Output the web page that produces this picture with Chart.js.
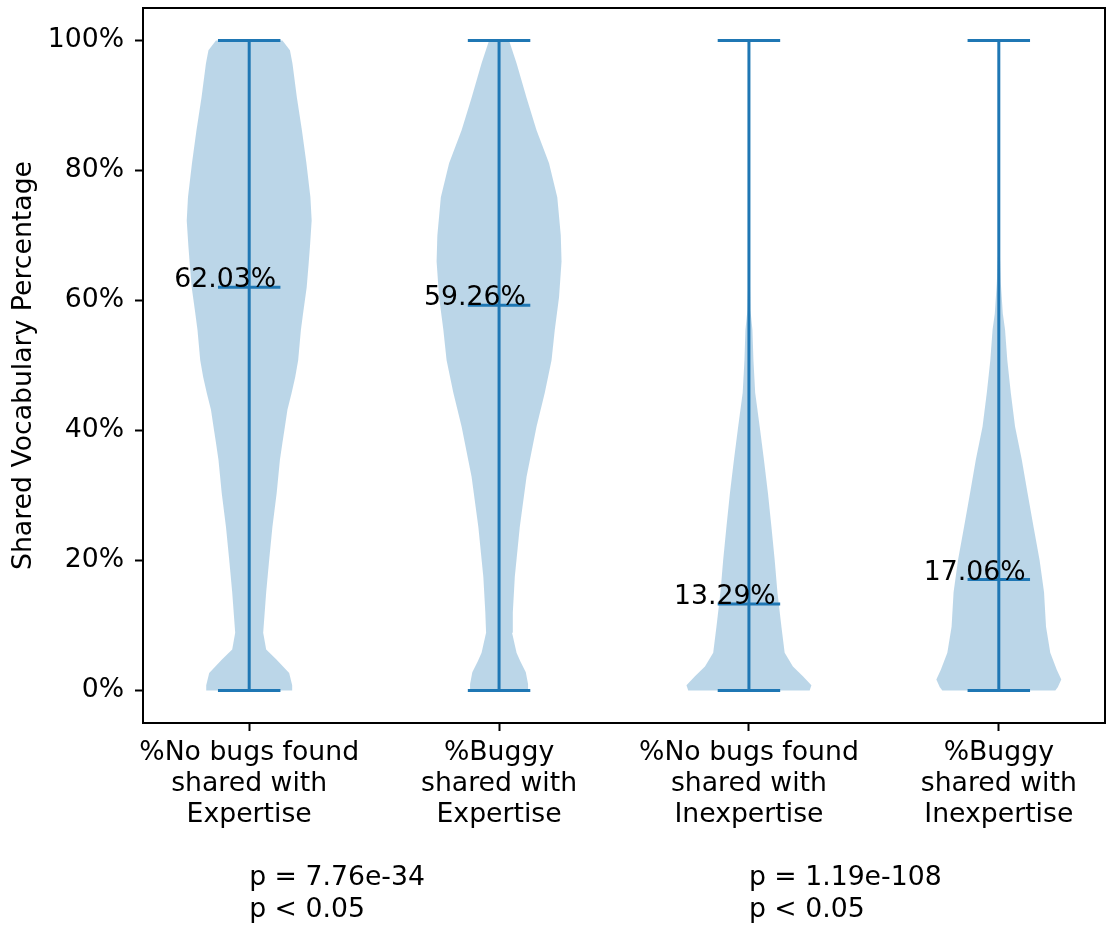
<!DOCTYPE html>
<html>
<head>
<meta charset="utf-8">
<script src="https://cdn.jsdelivr.net/npm/chart.js@4"></script>
<style>
  html, body { margin: 0; padding: 0; background: #fff; }
  canvas { display: block; }
</style>
</head>
<body>
<canvas id="violinChart" width="1110" height="928"></canvas>
<script>
// categories and summary values
const categories = [
    ['%No bugs found', 'shared with', 'Expertise'],
    ['%Buggy', 'shared with', 'Expertise'],
    ['%No bugs found', 'shared with', 'Inexpertise'],
    ['%Buggy', 'shared with', 'Inexpertise']
];
const positions = [1, 2, 3, 4];
const medians = [62.03, 59.26, 13.29, 17.06];
const minimums = [0, 0, 0, 0];
const maximums = [100, 100, 100, 100];
const yTicks = [0, 20, 40, 60, 80, 100];
const pTexts = [['p = 7.76e-34', 'p < 0.05'], ['p = 1.19e-108', 'p < 0.05']];
const pPositions = [1, 3];

// violin outlines: value levels (%) and half widths (x units)
const levels1 = [0, 0.8, 2.7, 4.8, 6.3, 8.9, 15.1, 20.1, 25.2, 30.4, 35.5, 38.1, 40.6, 43.2, 45.8, 48.2, 50.8, 55.5, 58.1, 62, 65.7, 68.2, 72.3, 75.9, 81.1, 86.2, 91.2, 96.5, 98.5, 100];
const widths1 = [0.172, 0.172, 0.160, 0.108, 0.068, 0.056, 0.068, 0.080, 0.093, 0.110, 0.123, 0.133, 0.143, 0.153, 0.170, 0.184, 0.196, 0.207, 0.216, 0.230, 0.238, 0.243, 0.250, 0.245, 0.229, 0.211, 0.191, 0.173, 0.163, 0.133];

const levels2 = [0, 1, 2.8, 4.5, 5.8, 8.9, 12, 17.5, 25.2, 32.9, 40.6, 45.8, 50.8, 55.5, 60.5, 66, 70, 75.9, 81.1, 86.2, 91.2, 96.5, 100];
const widths2 = [0.116, 0.116, 0.107, 0.085, 0.070, 0.052, 0.055, 0.063, 0.083, 0.110, 0.150, 0.183, 0.210, 0.223, 0.240, 0.250, 0.247, 0.233, 0.200, 0.150, 0.110, 0.070, 0.040];

const levels3 = [0, 0.8, 2.2, 3.7, 5.8, 9.8, 15.1, 20.1, 25.2, 30.4, 35.5, 40.6, 45.8, 50.8, 55.5, 58.5, 65, 80, 100];
const widths3 = [0.243, 0.250, 0.216, 0.176, 0.143, 0.130, 0.114, 0.103, 0.090, 0.076, 0.060, 0.043, 0.025, 0.018, 0.014, 0.006, 0.003, 0.001, 0];

const levels4 = [0, 0.5, 1.7, 3.2, 5.8, 9.8, 15.1, 20.1, 25.2, 30.4, 35.5, 40.6, 45.8, 50.8, 55.5, 58, 62.7, 68.8, 80, 100];
const widths4 = [0.226, 0.236, 0.250, 0.232, 0.206, 0.189, 0.181, 0.163, 0.139, 0.115, 0.092, 0.065, 0.048, 0.034, 0.025, 0.016, 0.008, 0.003, 0.001, 0];

const allLevels = [levels1, levels2, levels3, levels4];
const allWidths = [widths1, widths2, widths3, widths4];

const blue = '#1f77b4';
const fontFamily = '"DejaVu Sans", sans-serif';
const fontSize = 26.7;
const capHalf = 0.125;

function violinBody(levels, widths, pos) {
    var right = levels.map((y, i) => ({ x: pos + widths[i], y: y }));
    var left = levels.map((y, i) => ({ x: pos - widths[i], y: y })).reverse();
    return {
        data: right.concat(left),
        fill: 'shape',
        backgroundColor: 'rgba(31, 119, 180, 0.3)',
        borderColor: 'transparent',
        borderWidth: 0,
        pointRadius: 0,
        order: 2
    };
}

function segment(points) {
    return {
        data: points,
        borderColor: blue,
        borderWidth: 3,
        pointRadius: 0,
        fill: false,
        order: 1
    };
}

var datasets = [];
positions.forEach(function (pos, i) {
    datasets.push(violinBody(allLevels[i], allWidths[i], pos));
    datasets.push(segment([{ x: pos, y: minimums[i] }, { x: pos, y: maximums[i] }]));
    datasets.push(segment([{ x: pos - capHalf, y: minimums[i] }, { x: pos + capHalf, y: minimums[i] }]));
    datasets.push(segment([{ x: pos - capHalf, y: maximums[i] }, { x: pos + capHalf, y: maximums[i] }]));
    datasets.push(segment([{ x: pos - capHalf, y: medians[i] }, { x: pos + capHalf, y: medians[i] }]));
});

// frame, median labels and p-value notes
const annotations = {
    id: 'annotations',
    afterDraw: function (chart) {
        var ctx = chart.ctx;
        var area = chart.chartArea;
        var xs = chart.scales.x, ys = chart.scales.y;
        ctx.save();
        ctx.strokeStyle = '#000';
        ctx.lineWidth = 2;
        ctx.strokeRect(area.left, area.top, area.right - area.left, area.bottom - area.top);

        ctx.fillStyle = '#000';
        ctx.font = fontSize + 'px ' + fontFamily;
        ctx.textAlign = 'left';
        ctx.textBaseline = 'alphabetic';
        medians.forEach(function (m, i) {
            ctx.fillText(m.toFixed(2) + '%', xs.getPixelForValue(positions[i] - 0.3), ys.getPixelForValue(m));
        });

        ctx.textBaseline = 'middle';
        pTexts.forEach(function (lines, i) {
            lines.forEach(function (t, j) {
                ctx.fillText(t, xs.getPixelForValue(pPositions[i]), area.bottom + 155 + j * 32);
            });
        });
        ctx.restore();
    }
};

Chart.defaults.font.family = fontFamily;
Chart.defaults.color = '#000';

var ctxViolin = document.getElementById('violinChart').getContext('2d');
var violinChart = new Chart(ctxViolin, {
    type: 'line',
    data: { datasets: datasets },
    options: {
        responsive: false,
        animation: false,
        events: [],
        layout: { padding: { top: 8, right: 5, left: 0, bottom: 0 } },
        plugins: {
            legend: { display: false },
            tooltip: { enabled: false }
        },
        scales: {
            x: {
                type: 'linear',
                min: 0.575,
                max: 4.425,
                afterBuildTicks: function (scale) {
                    scale.ticks = positions.map(v => ({ value: v }));
                },
                afterFit: function (scale) { scale.height = 205; },
                border: { display: false },
                grid: { drawOnChartArea: false, tickLength: 8, tickWidth: 2, tickColor: '#000' },
                ticks: {
                    autoSkip: false,
                    maxRotation: 0,
                    padding: 6,
                    font: { size: fontSize, lineHeight: 1.17 },
                    callback: function (value) { return categories[Math.round(value) - 1]; }
                }
            },
            y: {
                min: -5,
                max: 105,
                afterBuildTicks: function (scale) {
                    scale.ticks = yTicks.map(v => ({ value: v }));
                },
                afterFit: function (scale) {
                    scale.width = 143;
                    scale.paddingTop = 0;
                    scale.paddingBottom = 0;
                },
                border: { display: false },
                grid: { drawOnChartArea: false, tickLength: 8, tickWidth: 2, tickColor: '#000' },
                ticks: {
                    padding: 11,
                    font: { size: fontSize, lineHeight: 0.4 },
                    callback: function (value) { return value + '%'; }
                },
                title: {
                    display: true,
                    text: 'Shared Vocabulary Percentage',
                    font: { size: fontSize, lineHeight: 1.2 },
                    padding: { top: 8, bottom: 0 }
                }
            }
        }
    },
    plugins: [annotations]
});
</script>
</body>
</html>
